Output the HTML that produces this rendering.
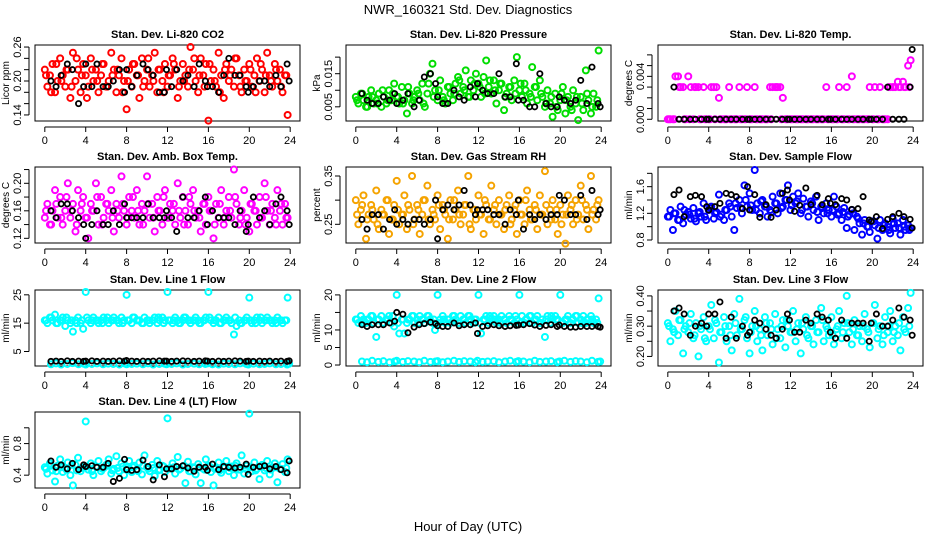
<!DOCTYPE html>
<html><head><meta charset="utf-8">
<style>
html,body{margin:0;padding:0;background:#fff;}
svg{display:block;font-family:"Liberation Sans",sans-serif;}
</style></head>
<body>
<svg id="chart" width="936" height="540" viewBox="0 0 936 540">
<text x="468" y="14" text-anchor="middle" font-size="13">NWR_160321  Std. Dev. Diagnostics</text>
<text x="468" y="531" text-anchor="middle" font-size="13">Hour of Day (UTC)</text>
</svg>
<script>
const xTicks = [0,4,8,12,16,20,24];
const hoursColor = [0,0.25,0.5,0.75,1,1.25,1.5,1.75,2,2.25,2.5,2.75,3,3.25,3.5,3.75,4,4.25,4.5,4.75,5,5.25,5.5,5.75,6,6.25,6.5,6.75,7,7.25,7.5,7.75,8,8.25,8.5,8.75,9,9.25,9.5,9.75,10,10.25,10.5,10.75,11,11.25,11.5,11.75,12,12.25,12.5,12.75,13,13.25,13.5,13.75,14,14.25,14.5,14.75,15,15.25,15.5,15.75,16,16.25,16.5,16.75,17,17.25,17.5,17.75,18,18.25,18.5,18.75,19,19.25,19.5,19.75,20,20.25,20.5,20.75,21,21.25,21.5,21.75,22,22.25,22.5,22.75,23,23.25,23.5,23.75];
const hoursColorB = [0.12,0.62,1.12,1.62,2.12,2.62,3.12,3.62,4.12,4.62,5.12,5.62,6.12,6.62,7.12,7.62,8.12,8.62,9.12,9.62,10.12,10.62,11.12,11.62,12.12,12.62,13.12,13.62,14.12,14.62,15.12,15.62,16.12,16.62,17.12,17.62,18.12,18.62,19.12,19.62,20.12,20.62,21.12,21.62,22.12,22.62,23.12,23.62];
const hoursBlack = [0.6,1.1,1.6,2.2,2.7,3.3,3.8,4.0,4.6,5.1,5.7,6.2,6.7,7.3,7.8,8.0,8.5,9.0,9.6,10.1,10.6,11.2,11.7,11.9,12.4,12.9,13.5,14.0,14.6,15.1,15.7,15.9,16.4,17.0,17.5,18.0,18.6,19.1,19.7,19.9,20.4,21.0,21.5,22.0,22.6,23.1,23.7,23.9];

const co2Color = [0.22,0.19,0.21,0.23,0.18,0.20,0.24,0.21,0.19,0.22,0.17,0.25,0.20,0.22,0.18,0.23,0.21,0.19,0.24,0.20,0.22,0.18,0.21,0.23,0.19,0.20,0.25,0.22,0.18,0.21,0.24,0.20,0.15,0.22,0.19,0.23,0.21,0.17,0.24,0.20,0.22,0.19,0.21,0.25,0.18,0.22,0.20,0.23,0.19,0.21,0.24,0.22,0.17,0.20,0.23,0.21,0.19,0.26,0.22,0.20,0.18,0.24,0.21,0.23,0.13,0.20,0.22,0.19,0.25,0.21,0.17,0.23,0.20,0.22,0.19,0.24,0.21,0.18,0.22,0.20,0.23,0.19,0.21,0.24,0.20,0.22,0.18,0.25,0.21,0.19,0.23,0.20,0.22,0.18,0.21,0.14];
const co2ColorB = [0.21,0.18,0.23,0.20,0.22,0.19,0.24,0.21,0.17,0.22,0.20,0.23,0.19,0.21,0.22,0.18,0.20,0.23,0.21,0.19,0.24,0.20,0.22,0.18,0.21,0.23,0.19,0.20,0.22,0.24,0.21,0.19,0.23,0.20,0.18,0.22,0.21,0.24,0.19,0.20,0.22,0.18,0.23,0.21,0.20,0.22,0.19,0.21];
const co2Black = [0.20,0.19,0.21,0.23,0.22,0.16,0.19,0.23,0.19,0.23,0.19,0.19,0.20,0.22,0.18,0.22,0.19,0.21,0.23,0.22,0.21,0.18,0.18,0.22,0.19,0.22,0.20,0.21,0.19,0.23,0.20,0.19,0.19,0.18,0.21,0.24,0.21,0.21,0.19,0.18,0.19,0.20,0.20,0.19,0.21,0.19,0.23,0.20];

const presColor = [0.008,0.006,0.009,0.007,0.005,0.008,0.010,0.006,0.007,0.009,0.005,0.008,0.006,0.010,0.007,0.012,0.008,0.006,0.011,0.007,0.003,0.009,0.006,0.008,0.010,0.007,0.012,0.005,0.009,0.015,0.018,0.010,0.007,0.013,0.008,0.006,0.011,0.009,0.007,0.012,0.014,0.009,0.011,0.016,0.008,0.013,0.010,0.015,0.012,0.008,0.014,0.019,0.011,0.009,0.013,0.006,0.010,0.012,0.004,0.009,0.011,0.007,0.013,0.020,0.010,0.008,0.012,0.006,0.009,0.017,0.011,0.007,0.013,0.008,0.005,0.010,0.006,0.002,0.009,0.004,0.007,0.011,0.003,0.008,0.005,0.010,0.006,0.001,0.008,0.004,0.016,0.007,0.003,0.009,0.005,0.022];
const presColorB = [0.007,0.009,0.005,0.008,0.006,0.010,0.007,0.009,0.008,0.006,0.011,0.007,0.009,0.006,0.012,0.008,0.010,0.007,0.011,0.009,0.013,0.010,0.008,0.012,0.011,0.009,0.013,0.010,0.012,0.008,0.011,0.009,0.012,0.010,0.008,0.011,0.009,0.006,0.008,0.005,0.009,0.007,0.004,0.008,0.006,0.009,0.005,0.007];
const presBlack = [0.009,0.007,0.006,0.006,0.008,0.007,0.009,0.006,0.007,0.009,0.005,0.007,0.014,0.015,0.012,0.008,0.006,0.006,0.010,0.008,0.007,0.011,0.008,0.012,0.010,0.009,0.009,0.015,0.008,0.008,0.018,0.007,0.007,0.005,0.005,0.015,0.006,0.005,0.005,0.008,0.007,0.006,0.007,0.013,0.006,0.017,0.006,0.005];

const tempColor = [0,0,0,0.004,0.004,0.003,0.003,0,0.004,0.003,0,0.003,0.003,0,0.003,0,0,0.003,0.003,0.003,0.002,0,0,0,0.003,0,0,0,0.003,0,0,0.003,0,0,0.003,0,0,0,0,0,0.003,0.003,0.003,0.003,0.003,0.002,0,0,0,0,0,0,0,0,0,0,0,0,0,0,0,0,0.003,0,0,0,0,0.003,0,0,0.003,0,0.004,0,0,0,0,0,0,0.003,0,0.003,0,0.003,0,0,0,0.003,0.003,0.003,0.0035,0.003,0.0035,0.003,0.005,0.0055];
const tempColorB = [0,0,0.003,0,0,0.003,0,0,0,0,0,0,0,0,0,0,0,0,0,0,0,0.003,0,0,0,0,0,0,0,0,0,0,0,0,0,0,0,0,0,0,0,0,0,0.003,0.003,0.003,0.003,0.003];
const tempBlack = [0.003,0,0,0,0,0,0,0,0,0,0,0,0,0,0,0,0,0,0,0,0,0,0,0,0,0,0,0,0,0,0,0,0,0,0,0,0,0,0,0,0,0,0.003,0,0,0,0.003,0.0065];

const ambColor = [0.15,0.17,0.14,0.16,0.19,0.15,0.18,0.14,0.16,0.20,0.15,0.17,0.13,0.19,0.16,0.18,0.15,0.12,0.17,0.16,0.20,0.14,0.18,0.15,0.17,0.16,0.19,0.13,0.17,0.15,0.21,0.16,0.14,0.18,0.16,0.15,0.19,0.14,0.17,0.16,0.21,0.15,0.17,0.13,0.18,0.16,0.14,0.19,0.15,0.17,0.16,0.14,0.20,0.15,0.18,0.16,0.14,0.17,0.19,0.15,0.16,0.13,0.17,0.14,0.18,0.16,0.12,0.17,0.15,0.19,0.14,0.16,0.18,0.15,0.22,0.17,0.14,0.16,0.19,0.15,0.13,0.17,0.16,0.14,0.18,0.15,0.20,0.16,0.14,0.17,0.15,0.19,0.16,0.14,0.17,0.15];
const ambColorB = [0.16,0.14,0.17,0.15,0.18,0.16,0.14,0.17,0.15,0.16,0.18,0.14,0.17,0.15,0.16,0.17,0.15,0.18,0.16,0.14,0.17,0.15,0.16,0.18,0.15,0.17,0.16,0.14,0.18,0.16,0.15,0.17,0.16,0.14,0.17,0.15,0.16,0.18,0.15,0.14,0.17,0.16,0.15,0.18,0.16,0.14,0.17,0.15];
const ambBlack = [0.16,0.15,0.17,0.17,0.16,0.15,0.14,0.12,0.14,0.16,0.14,0.14,0.16,0.14,0.17,0.15,0.15,0.15,0.15,0.17,0.15,0.15,0.15,0.16,0.15,0.13,0.18,0.15,0.15,0.16,0.18,0.14,0.16,0.15,0.15,0.15,0.14,0.16,0.13,0.14,0.18,0.15,0.16,0.14,0.17,0.18,0.16,0.14];

const rhColor = [0.30,0.25,0.28,0.31,0.22,0.27,0.29,0.26,0.32,0.24,0.28,0.27,0.30,0.23,0.26,0.29,0.34,0.25,0.27,0.31,0.24,0.28,0.35,0.26,0.29,0.23,0.27,0.30,0.33,0.25,0.28,0.26,0.31,0.24,0.29,0.27,0.22,0.30,0.26,0.28,0.32,0.25,0.27,0.29,0.35,0.24,0.28,0.26,0.31,0.27,0.23,0.29,0.26,0.33,0.28,0.25,0.30,0.27,0.24,0.29,0.31,0.26,0.28,0.23,0.30,0.27,0.25,0.32,0.28,0.26,0.29,0.24,0.31,0.27,0.36,0.25,0.28,0.30,0.26,0.23,0.29,0.27,0.21,0.31,0.28,0.25,0.30,0.27,0.33,0.26,0.29,0.24,0.35,0.28,0.26,0.30];
const rhColorB = [0.27,0.29,0.26,0.28,0.25,0.27,0.30,0.26,0.28,0.27,0.29,0.25,0.28,0.30,0.26,0.27,0.29,0.28,0.26,0.30,0.27,0.29,0.25,0.28,0.27,0.30,0.26,0.29,0.27,0.28,0.25,0.29,0.27,0.30,0.26,0.28,0.27,0.29,0.26,0.28,0.25,0.27,0.29,0.26,0.30,0.28,0.27,0.29];
const rhBlack = [0.26,0.24,0.27,0.27,0.24,0.26,0.28,0.25,0.26,0.25,0.26,0.26,0.25,0.26,0.30,0.22,0.28,0.29,0.28,0.29,0.32,0.29,0.27,0.28,0.28,0.28,0.27,0.27,0.25,0.28,0.27,0.30,0.24,0.27,0.26,0.27,0.26,0.27,0.27,0.31,0.30,0.27,0.27,0.31,0.26,0.32,0.27,0.28];

const flowColor = [1.15,1.25,0.95,1.20,1.10,1.30,1.05,1.18,1.22,1.12,1.28,1.08,1.20,1.15,1.35,1.10,1.25,1.30,1.12,1.22,1.48,1.18,1.10,1.25,1.35,1.15,0.95,1.28,1.40,1.20,1.62,1.30,1.50,1.25,1.85,1.35,1.20,1.40,1.30,1.15,1.25,1.45,1.35,1.20,1.50,1.30,1.40,1.62,1.25,1.45,1.35,1.50,1.20,1.42,1.30,1.15,1.38,1.25,1.45,1.10,1.30,1.20,1.35,1.25,1.15,1.45,1.30,1.20,1.10,1.28,0.98,1.18,1.25,0.95,1.15,1.05,0.88,1.10,1.00,0.92,1.08,1.02,0.82,1.10,0.95,1.05,1.00,0.90,1.12,0.98,1.05,0.88,1.10,0.95,1.02,0.98];
const flowColorB = [1.15,1.20,1.10,1.25,1.18,1.12,1.22,1.15,1.28,1.20,1.15,1.25,1.30,1.35,1.28,1.40,1.32,1.25,1.38,1.30,1.22,1.35,1.28,1.40,1.32,1.38,1.25,1.30,1.35,1.22,1.28,1.20,1.25,1.18,1.22,1.15,1.20,1.12,1.05,1.00,1.08,0.98,1.02,0.95,1.05,0.98,1.00,0.95];
const flowBlack = [1.48,1.55,1.15,1.45,1.47,1.45,1.30,1.25,1.30,1.35,1.50,1.48,1.45,1.27,1.60,1.25,1.48,1.14,1.33,1.14,1.25,1.50,1.55,1.40,1.23,1.32,1.58,1.33,1.47,1.33,1.42,1.35,1.33,1.42,1.40,1.26,1.27,1.45,1.10,1.08,1.15,0.97,1.11,1.15,1.20,1.15,1.11,0.98];

const line1Color = [16,15,17,16,18,15,16,17,14,16,15,12,16,17,15,13,26,16,15,17,16,15,16,17,16,15,16,17,16,15,17,16,25,16,15,17,16,16,15,17,16,15,16,17,15,16,17,16,26,16,15,17,16,15,16,17,16,15,16,17,16,15,16,17,26,16,15,16,17,15,16,17,16,15,11,14,16,15,16,17,24,15,16,17,16,15,16,17,16,15,16,17,16,15,16,24];
const line1ColorB = [16,17,15,16,17,16,15,16,17,16,16,15,17,16,16,15,16,17,16,15,16,16,17,15,16,16,15,17,16,16,15,16,17,16,15,16,16,17,15,16,16,15,17,16,16,15,16,16];
const line1Low = [0.5,0.8,0.4,0.6,0.9,0.5,0.7,0.4,0.6,0.8,0.5,0.7,0.6,0.4,0.8,0.5,0.6,0.7,0.5,0.8,0.4,0.6,0.7,0.5,0.6,0.8,0.4,0.6,0.7,0.5,0.6,0.8,0.5,0.4,0.7,0.6,0.5,0.8,0.6,0.4,0.7,0.5,0.6,0.8,0.5,0.6,0.4,0.7];
const line1Black = [1.5,1.6,1.5,1.7,1.5,1.6,1.5,1.6,1.7,1.5,1.6,1.5,1.6,1.7,1.6,1.8,1.6,1.5,1.6,1.5,1.6,1.7,1.6,1.6,1.5,1.6,1.7,1.6,1.5,1.6,1.7,1.6,1.5,1.6,1.5,1.6,1.7,1.6,1.5,1.6,1.5,1.6,1.5,1.6,1.5,1.6,1.5,1.7];

const line2Color = [13,12,14,13,12,13,14,12,8,13,14,12,13,14,12,11,20,9,13,9,12,13,14,12,13,14,13,12,14,13,12,10,20,13,14,12,13,12,14,13,12,14,13,12,14,13,12,13,20,9,13,14,12,13,14,12,13,14,13,12,14,13,12,13,20,14,12,13,14,12,13,14,12,13,8,14,12,13,14,13,20,12,13,14,12,13,14,12,13,14,12,13,14,12,13,19];
const line2ColorB = [13,12,13,14,13,12,13,14,12,13,13,14,12,13,14,13,12,13,13,14,12,13,14,13,12,13,14,13,12,13,13,14,12,13,14,13,12,13,14,13,12,13,13,14,12,13,13,12];
const line2Low = [1.0,0.8,1.2,0.9,1.1,0.8,1.0,1.2,0.9,1.1,1.0,0.8,1.2,0.9,1.0,1.1,0.8,1.0,1.2,0.9,1.1,1.0,0.8,1.2,0.9,1.0,1.1,0.8,1.0,1.2,0.9,1.1,1.0,0.8,1.2,0.9,1.0,1.1,0.8,1.0,1.2,0.9,1.1,1.0,0.8,1.2,0.9,1.0];
const line2Black = [11.5,11,11.5,11.5,11.5,12,12.5,15,14.5,9.2,10.8,11.5,11.8,12.2,11.8,11.2,11,11,12,11.2,11.5,11.5,12,9,11,11.2,11.5,11.2,11,11.2,11.3,11.4,11.5,11.8,11.4,11,11.3,11.5,11,11.4,11,10.8,10.8,11,11,11,11,10.8];

const line3Color = [0.31,0.25,0.29,0.35,0.27,0.32,0.21,0.30,0.28,0.34,0.26,0.31,0.20,0.29,0.33,0.25,0.30,0.37,0.26,0.31,0.18,0.28,0.33,0.25,0.30,0.22,0.34,0.27,0.39,0.29,0.32,0.26,0.21,0.30,0.35,0.25,0.29,0.22,0.33,0.27,0.31,0.24,0.34,0.29,0.26,0.32,0.23,0.30,0.28,0.35,0.25,0.31,0.21,0.29,0.33,0.26,0.30,0.24,0.32,0.28,0.36,0.25,0.30,0.27,0.33,0.24,0.29,0.35,0.26,0.31,0.40,0.28,0.24,0.32,0.27,0.30,0.25,0.34,0.29,0.23,0.31,0.37,0.26,0.30,0.24,0.33,0.28,0.35,0.25,0.30,0.27,0.22,0.33,0.28,0.36,0.41];
const line3ColorB = [0.30,0.28,0.32,0.29,0.31,0.27,0.30,0.26,0.29,0.32,0.28,0.30,0.27,0.31,0.29,0.33,0.28,0.30,0.27,0.31,0.29,0.26,0.30,0.32,0.28,0.29,0.31,0.27,0.30,0.28,0.32,0.29,0.27,0.30,0.28,0.31,0.29,0.27,0.30,0.28,0.31,0.29,0.27,0.30,0.28,0.31,0.29,0.30];
const line3Black = [0.35,0.36,0.34,0.27,0.30,0.31,0.30,0.34,0.34,0.38,0.26,0.33,0.26,0.30,0.27,0.28,0.32,0.31,0.29,0.27,0.26,0.29,0.34,0.32,0.28,0.28,0.32,0.31,0.34,0.33,0.32,0.28,0.26,0.32,0.26,0.31,0.31,0.31,0.25,0.31,0.34,0.30,0.30,0.32,0.36,0.33,0.32,0.27];

const line4Color = [0.50,0.42,0.55,0.46,0.32,0.52,0.60,0.44,0.49,0.56,0.40,0.27,0.53,0.62,0.45,0.50,1.08,0.47,0.55,0.40,0.51,0.58,0.45,0.49,0.53,0.60,0.42,0.48,0.64,0.45,0.55,0.40,0.50,0.58,0.44,0.52,0.47,0.56,0.41,0.65,0.50,0.45,0.53,0.39,0.58,0.47,0.52,0.44,1.12,0.49,0.55,0.42,0.63,0.48,0.51,0.30,0.57,0.45,0.50,0.41,0.54,0.30,0.48,0.60,0.52,0.44,0.27,0.50,0.56,0.43,0.49,0.58,0.45,0.51,0.40,0.55,0.47,0.65,0.42,0.52,1.18,0.45,0.56,0.48,0.35,0.53,0.46,0.58,0.41,0.50,0.55,0.31,0.48,0.54,0.44,0.60];
const line4ColorB = [0.48,0.52,0.45,0.50,0.47,0.53,0.46,0.49,0.51,0.45,0.50,0.48,0.52,0.46,0.49,0.51,0.47,0.50,0.45,0.52,0.48,0.49,0.46,0.51,0.48,0.50,0.47,0.52,0.45,0.49,0.50,0.47,0.51,0.48,0.46,0.50,0.49,0.52,0.47,0.48,0.50,0.46,0.51,0.49,0.47,0.50,0.48,0.49];
const line4Black = [0.58,0.50,0.53,0.48,0.55,0.47,0.53,0.51,0.52,0.50,0.50,0.55,0.32,0.36,0.60,0.47,0.46,0.47,0.59,0.51,0.34,0.53,0.38,0.48,0.48,0.51,0.52,0.49,0.45,0.50,0.50,0.46,0.54,0.47,0.51,0.50,0.49,0.50,0.54,0.41,0.50,0.51,0.52,0.48,0.51,0.47,0.43,0.58];

const NS = "http://www.w3.org/2000/svg";
const svg = document.getElementById('chart');
function mk(tag, attrs, parent){ const e=document.createElementNS(NS,tag); for(const k in attrs) e.setAttribute(k,attrs[k]); (parent||svg).appendChild(e); return e; }

const colLeft=[35,346,658], rowTop=[45,167,290,412], W=265, H=76;
const panels = [
 {key:'co2',t:'Stan. Dev. Li-820 CO2',yl:'Licor ppm',c:0,r:0,ymin:0.1293,ymax:0.2636,ticks:[0.14,0.16,0.18,0.20,0.22,0.24,0.26],labs:['0.14','0.20','0.26'],labAt:[0.14,0.20,0.26],col:'#ff0000',series:[[hoursColor,co2Color],[hoursColorB,co2ColorB]],black:co2Black},
 {key:'pressure',t:'Stan. Dev. Li-820 Pressure',yl:'kPa',c:1,r:0,ymin:0.00072,ymax:0.02366,ticks:[0.005,0.010,0.015,0.020],labs:['0.005','0.015'],labAt:[0.005,0.015],col:'#00dd00',series:[[hoursColor,presColor],[hoursColorB,presColorB]],black:presBlack},
 {key:'temp',t:'Stan. Dev. Li-820 Temp.',yl:'degrees C',c:2,r:0,ymin:-0.00016,ymax:0.00692,ticks:[0,0.001,0.002,0.003,0.004,0.005,0.006],labs:['0.000','0.004'],labAt:[0,0.004],col:'#ff00ff',series:[[hoursColor,tempColor],[hoursColorB,tempColorB]],black:tempBlack},
 {key:'ambtemp',t:'Stan. Dev. Amb. Box Temp.',yl:'degrees C',c:0,r:1,ymin:0.1132,ymax:0.2237,ticks:[0.12,0.14,0.16,0.18,0.20,0.22],labs:['0.12','0.16','0.20'],labAt:[0.12,0.16,0.20],col:'#ff00ff',series:[[hoursColor,ambColor],[hoursColorB,ambColorB]],black:ambBlack},
 {key:'rh',t:'Stan. Dev. Gas Stream RH',yl:'percent',c:1,r:1,ymin:0.2113,ymax:0.3686,ticks:[0.25,0.30,0.35],labs:['0.25','0.35'],labAt:[0.25,0.35],col:'#f5a300',series:[[hoursColor,rhColor],[hoursColorB,rhColorB]],black:rhBlack},
 {key:'sampleflow',t:'Stan. Dev. Sample Flow',yl:'ml/min',c:2,r:1,ymin:0.755,ymax:1.895,ticks:[0.8,1.0,1.2,1.4,1.6,1.8],labs:['0.8','1.2','1.6'],labAt:[0.8,1.2,1.6],col:'#0000ff',series:[[hoursColor,flowColor],[hoursColorB,flowColorB]],black:flowBlack},
 {key:'line1',t:'Stan. Dev. Line 1 Flow',yl:'ml/min',c:0,r:2,ymin:-0.12,ymax:26.7,ticks:[5,15,25],labs:['5','15','25'],labAt:[5,15,25],col:'#00ffff',series:[[hoursColor,line1Color],[hoursColorB,line1ColorB],[hoursBlack,line1Low]],black:line1Black},
 {key:'line2',t:'Stan. Dev. Line 2 Flow',yl:'ml/min',c:1,r:2,ymin:-0.28,ymax:21.4,ticks:[0,5,10,15,20],labs:['0','5','10','20'],labAt:[0,5,10,20],col:'#00ffff',series:[[hoursColor,line2Color],[hoursColorB,line2ColorB],[hoursBlack,line2Low]],black:line2Black},
 {key:'line3',t:'Stan. Dev. Line 3 Flow',yl:'ml/min',c:2,r:2,ymin:0.1684,ymax:0.4195,ticks:[0.20,0.25,0.30,0.35,0.40],labs:['0.20','0.30','0.40'],labAt:[0.20,0.30,0.40],col:'#00ffff',series:[[hoursColor,line3Color],[hoursColorB,line3ColorB]],black:line3Black},
 {key:'line4',t:'Stan. Dev. Line 4 (LT) Flow',yl:'ml/min',c:0,r:3,ymin:0.2375,ymax:1.2,ticks:[0.4,0.6,0.8,1.0],labs:['0.4','0.8'],labAt:[0.4,0.8],col:'#00ffff',series:[[hoursColor,line4Color],[hoursColorB,line4ColorB]],black:line4Black}
];

panels.forEach(p=>{
  const L=colLeft[p.c], T=rowTop[p.r];
  const g=mk('g',{});
  
  
  const xs=h=>L+W*((h+0.96)/25.92);
  const ys=v=>T+H*(1-(v-p.ymin)/(p.ymax-p.ymin));
  const tt=mk('text',{x:L+W/2,y:T-7,'text-anchor':'middle','font-size':'11','font-weight':'bold'},g);
  tt.textContent=p.t;
  
  
  const box=mk('rect',{x:L,y:T,width:W,height:H,fill:'none',stroke:'#000','stroke-width':1},g);
  
  
  const xa=mk('g',{},g);
  
  
  mk('line',{x1:xs(0),x2:xs(24),y1:T+H+6,y2:T+H+6,stroke:'#000'},xa);
  xTicks.forEach(h=>{
    mk('line',{x1:xs(h),x2:xs(h),y1:T+H+6,y2:T+H+11,stroke:'#000'},xa);
    const tl=mk('text',{x:xs(h),y:T+H+23,'text-anchor':'middle','font-size':'11'},xa);
    tl.textContent=h;
    
    
  });
  const ya=mk('g',{},g);
  
  
  const ax=L-6;
  mk('line',{x1:ax,x2:ax,y1:ys(p.ticks[0]),y2:ys(p.ticks[p.ticks.length-1]),stroke:'#000'},ya);
  p.ticks.forEach(v=>mk('line',{x1:ax-5,x2:ax,y1:ys(v),y2:ys(v),stroke:'#000'},ya));
  p.labAt.forEach((v,i)=>{
    const yy=ys(v);
    const tl=mk('text',{x:ax-8,y:yy,'text-anchor':'middle','font-size':'11',transform:`rotate(-90 ${ax-8} ${yy})`},ya);
    tl.textContent=p.labs[i];
    
    
  });
  const yt=mk('text',{x:L-26,y:T+H/2,'text-anchor':'middle','font-size':'10',transform:`rotate(-90 ${L-26} ${T+H/2})`},g);
  yt.textContent=p.yl;
  
  
  p.series.forEach(([hx,vals])=>{
    vals.forEach((v,i)=>{
      const c=mk('circle',{cx:xs(hx[i]),cy:ys(v),r:3,fill:'none',stroke:p.col,'stroke-width':2},g);
      
      
    });
  });
  p.black.forEach((v,i)=>{
    const c=mk('circle',{cx:xs(hoursBlack[i]),cy:ys(v),r:2.6,fill:'none',stroke:'#000','stroke-width':1.8},g);
    
    
  });
});
</script>
</body></html>
